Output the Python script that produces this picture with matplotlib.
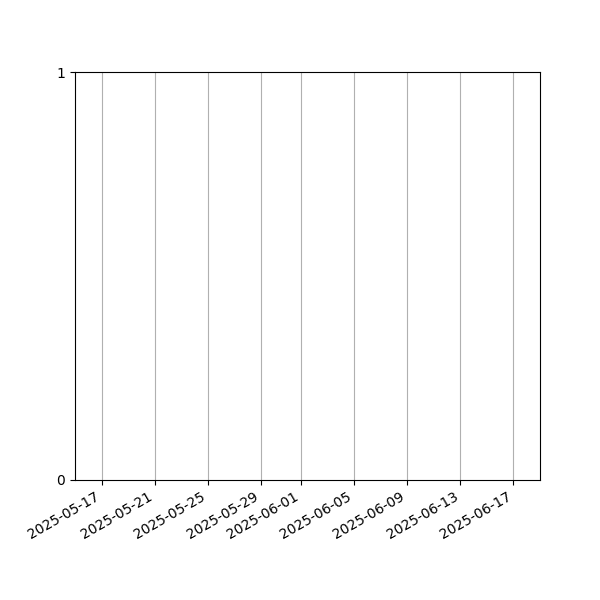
import numpy as np
import matplotlib
matplotlib.use('Agg')
import matplotlib.pyplot as plt
import matplotlib.dates as mdates

# Empty chart: only the date span is known
start_date = np.datetime64('2025-05-15')
end_date = np.datetime64('2025-06-19')
y_ticks = [0, 1]

fig, ax = plt.subplots(figsize=(6, 6), dpi=100)

ax.set_xlim(start_date, end_date)
ax.set_ylim(0, 1)
ax.set_yticks(y_ticks)

ax.xaxis.set_major_locator(mdates.AutoDateLocator())
ax.xaxis.set_major_formatter(mdates.DateFormatter('%Y-%m-%d'))
ax.grid(True, axis='x')

fig.autofmt_xdate()
fig.savefig('out.png', dpi=100)
